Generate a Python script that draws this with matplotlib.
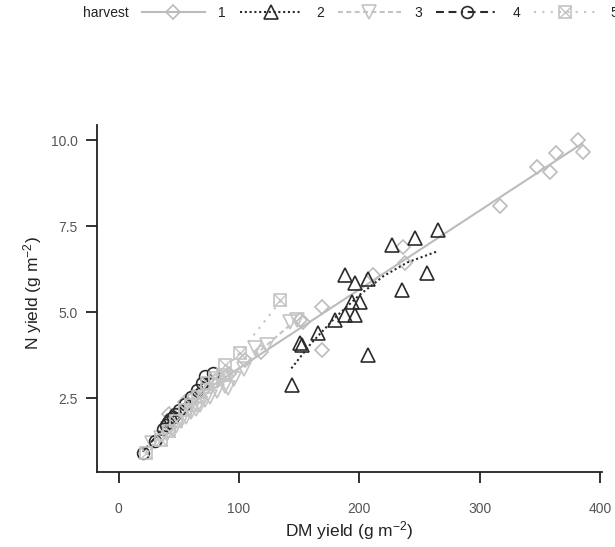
import matplotlib
matplotlib.use("Agg")
import matplotlib.pyplot as plt
from matplotlib.lines import Line2D

plt.rcParams['font.family'] = ['Liberation Sans', 'DejaVu Sans']
plt.rcParams['mathtext.fontset'] = 'custom'
plt.rcParams['mathtext.rm'] = 'Liberation Sans'
plt.rcParams['mathtext.it'] = 'Liberation Sans'

# harvest 1 - open diamonds
h1_dm = [42, 55, 63, 70, 80, 92, 105, 118, 150.7, 153, 168.7, 168.7,
         211.6, 236.6, 238, 317, 347.5, 358.5, 363, 382, 386]
h1_n = [2.05, 2.4, 2.55, 2.75, 3.0, 3.2, 3.6, 3.85, 4.78, 4.72, 5.16, 3.9,
        6.08, 6.9, 6.42, 8.09, 9.23, 9.06, 9.62, 10.0, 9.65]
h1_fit_dm = [40, 385]
h1_fit_n = [2.0, 9.9]

# harvest 2 - open triangles
h2_dm = [143.8, 150.7, 152.5, 166, 179.8, 188, 196.4, 193.7, 200.6, 188,
         196.4, 207.5, 207.5, 227, 235.2, 246.3, 256, 265.7]
h2_n = [2.89, 4.1, 4.05, 4.39, 4.78, 4.92, 4.92, 5.31, 5.31, 6.08,
        5.84, 5.96, 3.76, 6.96, 5.65, 7.15, 6.13, 7.39]
h2_fit_dm = [143.5, 160, 180, 200, 220, 240, 264]
h2_fit_n = [3.37, 4.1, 4.85, 5.5, 6.05, 6.45, 6.76]

# harvest 3 - open down triangles
h3_dm = [28, 35, 40, 44, 48, 52, 56, 60, 64, 68, 72, 76, 82, 88, 91, 96,
         104, 113, 123, 142, 148]
h3_n = [1.2, 1.35, 1.45, 1.6, 1.7, 1.85, 1.95, 2.1, 2.2, 2.3, 2.45, 2.55,
        2.7, 2.85, 2.8, 3.05, 3.35, 3.95, 4.05, 4.73, 4.78]
h3_fit_dm = [28, 90, 148]
h3_fit_n = [1.25, 3.05, 4.8]

# harvest 4 - open circles
h4_dm = [20.4, 30.5, 37, 39, 41, 43, 45, 47, 50, 55, 60, 65, 69, 71.7, 78.6]
h4_n = [0.92, 1.27, 1.6, 1.72, 1.8, 1.9, 1.95, 2.05, 2.15, 2.35, 2.55,
        2.75, 2.94, 3.15, 3.25]
h4_fit_dm = [20, 75]
h4_fit_n = [0.95, 3.15]

# harvest 5 - crossed squares
h5_dm = [23, 35, 42, 48, 55, 60, 66, 73, 80, 87, 88.4, 100.8, 134]
h5_n = [0.92, 1.3, 1.55, 1.85, 2.15, 2.3, 2.55, 2.94, 3.1, 3.18, 3.47,
        3.83, 5.36]
h5_fit_dm = [23, 60, 100, 134]
h5_fit_n = [0.95, 2.35, 3.8, 5.3]

harvests = ['1', '2', '3', '4', '5']
colors = ['#bcbcbc', '#2b2b2b', '#c4c4c4', '#2b2b2b', '#c4c4c4']
styles = ['-', (0, (1, 1.3)), (0, (2.4, 1.6)),
          (0, (3.8, 2.2, 3.8, 2.2, 1, 2.2)), (0, (1, 3))]
markers = ['D', '^', 'v', 'o', 's']
msizes = [7.5, 10, 10, 8.5, 8.5]

points = [(h1_dm, h1_n), (h2_dm, h2_n), (h3_dm, h3_n), (h4_dm, h4_n),
          (h5_dm, h5_n)]
fits = [(h1_fit_dm, h1_fit_n), (h2_fit_dm, h2_fit_n), (h3_fit_dm, h3_fit_n),
        (h4_fit_dm, h4_fit_n), (h5_fit_dm, h5_fit_n)]

fig = plt.figure(figsize=(6.15, 5.47), dpi=100)
ax = fig.add_axes([0.1577, 0.1377, 0.8212, 0.6338])

for i in range(5):
    xs, ys = points[i]
    ax.plot(xs, ys, linestyle='none', marker=markers[i], ms=msizes[i],
            mfc='none', mec=colors[i], mew=1.2)
    if markers[i] == 's':
        ax.plot(xs, ys, linestyle='none', marker='x', ms=msizes[i],
                mec=colors[i], mew=1.0)
    fx, fy = fits[i]
    ax.plot(fx, fy, color=colors[i], linestyle=styles[i], lw=1.5)

ax.set_xlim(-18, 401.6)
ax.set_ylim(0.37, 10.44)
ax.set_xticks([0, 100, 200, 300, 400])
ax.set_yticks([2.5, 5.0, 7.5, 10.0])
ax.set_yticklabels(['2.5', '5.0', '7.5', '10.0'])
for s in ['top', 'right']:
    ax.spines[s].set_visible(False)
for s in ['left', 'bottom']:
    ax.spines[s].set_linewidth(1.3)
    ax.spines[s].set_color('#222222')
ax.tick_params(axis='both', length=8, width=1.3, color='#222222',
               labelsize=10, labelcolor='#555555')
ax.tick_params(axis='x', pad=14)
ax.tick_params(axis='y', pad=6)

ax.set_xlabel(r'DM yield (g m$^{-2}$)', fontsize=12.5, color='#222222',
              va='center')
ax.xaxis.set_label_coords(0.5, -0.171)
ax.set_ylabel(r'N yield (g m$^{-2}$)', fontsize=12.5, color='#222222',
              va='center')
ax.yaxis.set_label_coords(-0.127, 0.515)

# legend across the top
fig.text(83 / 615, 1 - 13 / 547, 'harvest', fontsize=10, color='#222222',
         ha='left', va='center')
handles = []
for i in range(5):
    h = Line2D([], [], color=colors[i], linestyle=styles[i], lw=1.5,
               marker=markers[i], ms=msizes[i], mfc='none',
               mec=colors[i], mew=1.2)
    if markers[i] == 's':
        hx = Line2D([], [], linestyle='none', marker='x', ms=msizes[i],
                    mec=colors[i], mew=1.0)
        h = (h, hx)
    handles.append(h)
fig.legend(handles, harvests, ncol=5, loc='center left',
           bbox_to_anchor=(142 / 615, 1 - 13 / 547), frameon=False,
           borderpad=0, borderaxespad=0, handlelength=4.5,
           handletextpad=1.0, columnspacing=1.0, fontsize=10,
           labelcolor='#222222', numpoints=1)

fig.savefig('out.png', dpi=100)
